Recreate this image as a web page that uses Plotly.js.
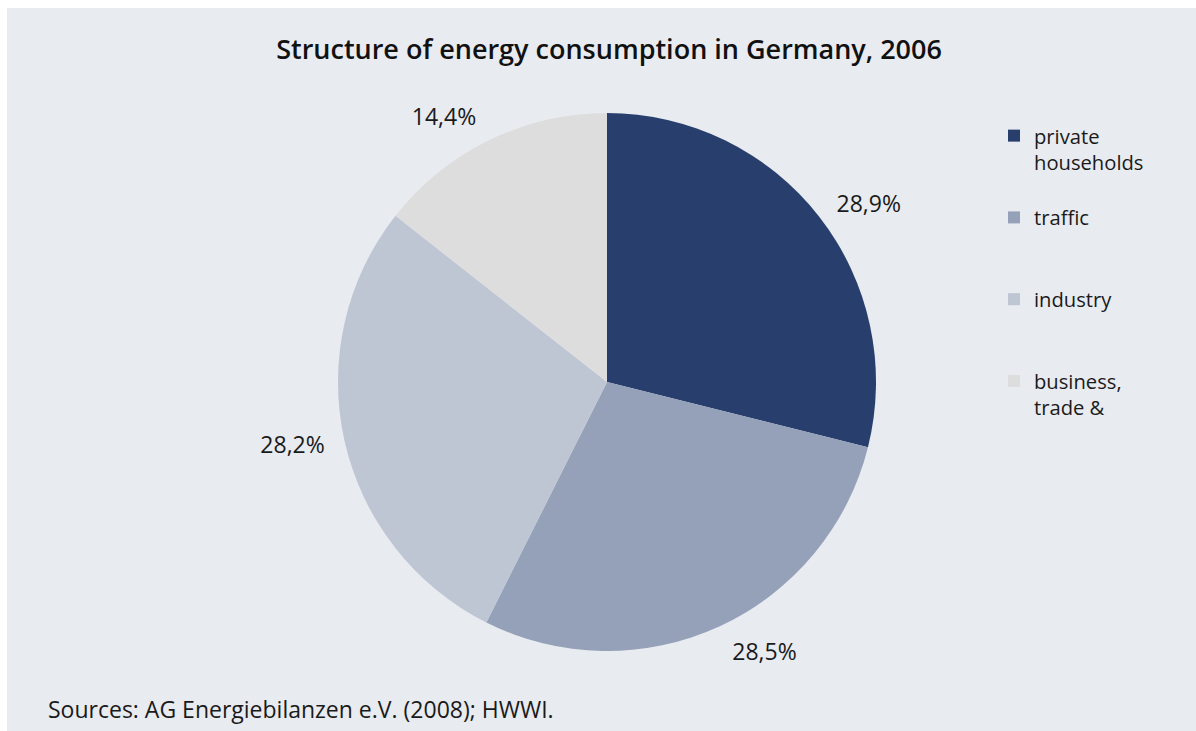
<!DOCTYPE html>
<html>
<head>
<meta charset="utf-8">
<script src="https://cdn.plot.ly/plotly-3.0.1.min.js"></script>
<style>
html,body{margin:0;padding:0;background:#ffffff;}
#chart{width:1196px;height:731px;}
</style>
</head>
<body>
<div id="chart"></div>
<script>
const categories = ["private<br>households<br> ", "traffic<br> <br> ", "industry<br> <br> ", "business,<br>trade &<br> "];
const shares = [28.9, 28.5, 28.2, 14.4];
const colors = ["#283f6e", "#94a1b9", "#bec5d3", "#dddddd"];
const titleText = "Structure of energy consumption in Germany, 2006";
const sourceText = "Sources: AG Energiebilanzen e.V. (2008); HWWI.";

const FONT = "Open Sans, Noto Sans, sans-serif";

// plot area: x 300..914, y 75..689 (614 x 614 px)
const W = 614, L = 300, T = 75, B = 42;
const px = v => (v - L) / W;          // pixel x -> paper x
const py = v => (W + T - v) / W;      // pixel y -> paper y

// main pie (no text)
const pieTrace = {
  type: "pie",
  labels: categories,
  values: shares,
  sort: false,
  direction: "clockwise",
  rotation: 0,
  domain: {x: [px(338), px(876)], y: [py(651), py(113)]},
  marker: {colors: colors, line: {width: 0}},
  textinfo: "none",
  hoverinfo: "label+value",
  showlegend: true
};

// transparent, slightly larger copy carrying the outside percentage labels
const labelTrace = {
  type: "pie",
  labels: categories,
  values: shares,
  sort: false,
  direction: "clockwise",
  rotation: 0,
  domain: {x: [px(326), px(888)], y: [py(663), py(101)]},
  marker: {colors: ["rgba(0,0,0,0)", "rgba(0,0,0,0)", "rgba(0,0,0,0)", "rgba(0,0,0,0)"], line: {width: 0}},
  textposition: "outside",
  texttemplate: "%{value:.1f}%",
  textfont: {family: FONT, size: 23, color: "#1a1a1a"},
  hoverinfo: "skip",
  showlegend: false
};

const layout = {
  width: 1196,
  height: 731,
  paper_bgcolor: "#ffffff",
  plot_bgcolor: "rgba(0,0,0,0)",
  separators: ",.",
  margin: {l: L, r: 1196 - L - W, t: T, b: B},
  font: {family: FONT, color: "#1a1a1a"},
  title: {
    text: titleText,
    font: {family: FONT, size: 27, weight: 600, color: "#111111"},
    x: 602 / 1196, xanchor: "center",
    y: 1 - 50 / 731, yanchor: "middle",
    xref: "paper", yref: "container"
  },
  legend: {
    x: px(994),
    xanchor: "left",
    y: py(116),
    yanchor: "top",
    valign: "top",
    bgcolor: "rgba(0,0,0,0)",
    font: {family: FONT, size: 20.2, color: "#1a1a1a"},
    itemwidth: 30,
    traceorder: "normal"
  },
  shapes: [{
    type: "rect", xref: "paper", yref: "paper", layer: "below",
    x0: px(7), x1: px(1196),
    y0: py(731), y1: py(8),
    fillcolor: "#e8ebf0", line: {width: 0}
  }],
  annotations: [{
    text: sourceText, showarrow: false,
    xref: "paper", yref: "paper",
    x: px(46), xanchor: "left",
    y: py(709), yanchor: "middle",
    font: {family: FONT, size: 23, color: "#1a1a1a"}
  }]
};

Plotly.newPlot("chart", [pieTrace, labelTrace], layout, {displayModeBar: false, staticPlot: true});
</script>
</body>
</html>
